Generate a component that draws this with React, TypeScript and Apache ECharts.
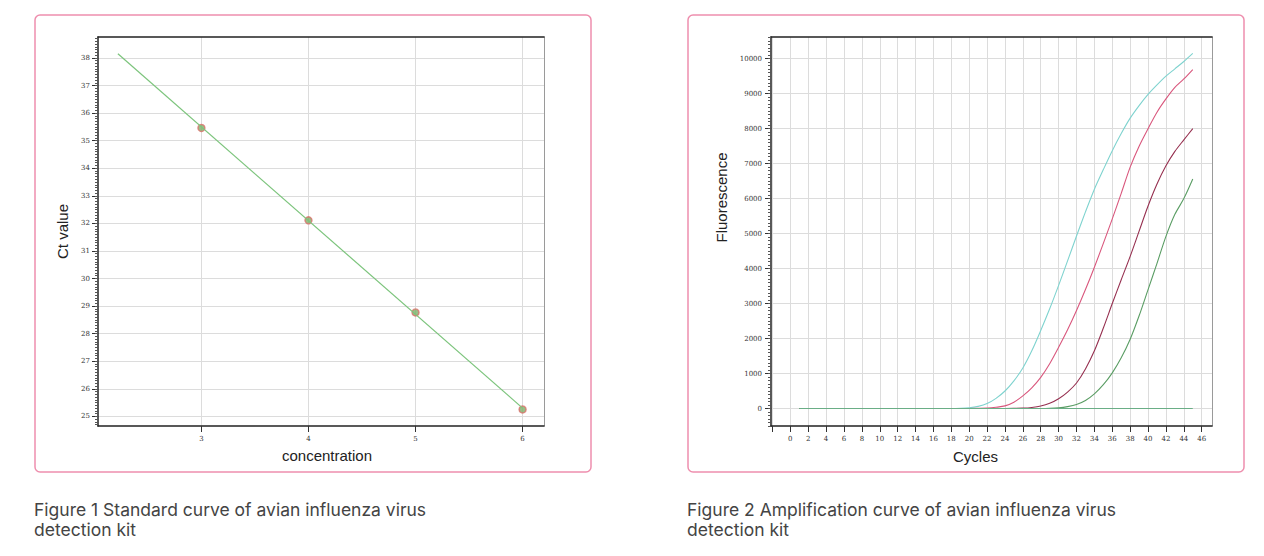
import * as echarts from 'echarts';
import { useEffect, useRef } from 'react';

// Figure 1: standard curve
const concentration = [3, 4, 5, 6];
const ctValues = [35.46, 32.11, 28.77, 25.25];
const fitStart = [2.22, 38.15];
const fitEnd = [6, 25.3];
const concTicks = [3, 4, 5, 6];
const ctTicks = [25, 26, 27, 28, 29, 30, 31, 32, 33, 34, 35, 36, 37, 38];

// Figure 2: amplification curves
const cycles = [
  1, 2, 3, 4, 5, 6, 7, 8, 9, 10, 11, 12, 13, 14, 15, 16, 17, 18, 19, 20, 21, 22, 23,
  24, 25, 26, 27, 28, 29, 30, 31, 32, 33, 34, 35, 36, 37, 38, 39, 40, 41, 42, 43, 44, 45,
];
const cyanCurve = [
  0, 0, 0, 0, 0, 0, 0, 0, 0, 0, 0, 0, 0, 0, 0, 0, 0, 0, 5, 20, 60, 140, 290, 500, 790,
  1160, 1650, 2230, 2850, 3520, 4220, 4930, 5620, 6270, 6830, 7370, 7860, 8300, 8660,
  8980, 9250, 9500, 9710, 9920, 10150,
];
const pinkCurve = [
  0, 0, 0, 0, 0, 0, 0, 0, 0, 0, 0, 0, 0, 0, 0, 0, 0, 0, 0, 0, 3, 10, 35, 75, 180, 360,
  590, 890, 1280, 1750, 2250, 2800, 3400, 4040, 4720, 5420, 6150, 6900, 7500, 8000,
  8470, 8850, 9180, 9420, 9690,
];
const maroonCurve = [
  0, 0, 0, 0, 0, 0, 0, 0, 0, 0, 0, 0, 0, 0, 0, 0, 0, 0, 0, 0, 0, 0, 0, 0, 3, 10, 30,
  70, 150, 280, 470, 730, 1130, 1650, 2300, 3000, 3680, 4350, 5070, 5790, 6420, 6940,
  7350, 7680, 8000,
];
const greenCurve = [
  0, 0, 0, 0, 0, 0, 0, 0, 0, 0, 0, 0, 0, 0, 0, 0, 0, 0, 0, 0, 0, 0, 0, 0, 0, 0, 0, 0,
  5, 20, 55, 115, 230, 420, 680, 1020, 1450, 1980, 2650, 3400, 4150, 4920, 5550, 6000,
  6560,
];
const baseline = [
  0, 0, 0, 0, 0, 0, 0, 0, 0, 0, 0, 0, 0, 0, 0, 0, 0, 0, 0, 0, 0, 0, 0, 0, 0, 0, 0, 0,
  0, 0, 0, 0, 0, 0, 0, 0, 0, 0, 0, 0, 0, 0, 0, 0, 0,
];
const cycleTicks = [-2, 0, 2, 4, 6, 8, 10, 12, 14, 16, 18, 20, 22, 24, 26, 28, 30, 32, 34, 36, 38, 40, 42, 44, 46];
const cycleLabels = [0, 2, 4, 6, 8, 10, 12, 14, 16, 18, 20, 22, 24, 26, 28, 30, 32, 34, 36, 38, 40, 42, 44, 46];
const fluorTicks = [0, 1000, 2000, 3000, 4000, 5000, 6000, 7000, 8000, 9000, 10000];

const captions = [
  'Figure 1 Standard curve of avian influenza virus\ndetection kit',
  'Figure 2 Amplification curve of avian influenza virus\ndetection kit',
];

const pair = (xs: number[], ys: number[]) => xs.map((x, i) => [x, ys[i]]);

const labelFont = {
  fontFamily: 'DejaVu Serif',
  fontSize: 7,
  color: '#333',
  formatter: (v: number) => String(v),
};
const nameFont = { fontFamily: 'Liberation Sans', fontSize: 15, color: '#222' };
const darkLine = { onZero: false, lineStyle: { color: '#222', width: 1.5 } };
const grayLine = { onZero: false, lineStyle: { color: '#9a9a9a', width: 1 } };
const gridLine = { show: true, lineStyle: { color: '#dcdcdc', width: 1 } };

const ctMinor: number[] = [];
for (let v = 247; v <= 387; v++) ctMinor.push(v / 10);
const fluorMinor: number[] = [];
for (let v = -500; v <= 10600; v += 100) fluorMinor.push(v);

const App = () => {
  const chartRef = useRef(null);

  useEffect(() => {
    const chart = echarts.init(chartRef.current, null, { renderer: 'svg' });

    const option = {
      animation: false,
      title: captions.map((text, i) => ({
        text,
        left: i === 0 ? 34 : 687,
        top: 499,
        padding: 0,
        textStyle: {
          fontFamily: 'Inter',
          fontSize: 17.5,
          fontWeight: 'normal',
          color: '#444',
          lineHeight: 20,
        },
      })),
      graphic: [
        {
          type: 'rect',
          shape: { x: 35, y: 15, width: 556, height: 457, r: 5 },
          style: { fill: 'none', stroke: '#ee8fae', lineWidth: 1.5 },
        },
        {
          type: 'rect',
          shape: { x: 688, y: 15, width: 556, height: 457, r: 5 },
          style: { fill: 'none', stroke: '#ee8fae', lineWidth: 1.5 },
        },
      ],
      grid: [
        { left: 98, top: 37, width: 446, height: 389 },
        { left: 771, top: 37, width: 441, height: 389 },
      ],
      xAxis: [
        {
          gridIndex: 0,
          type: 'value',
          position: 'bottom',
          min: 2.034,
          max: 6.2,
          axisLine: darkLine,
          axisTick: { customValues: concTicks, length: 6, lineStyle: { color: '#333' } },
          axisLabel: { ...labelFont, customValues: concTicks, margin: 9 },
          splitLine: gridLine,
          name: 'concentration',
          nameLocation: 'middle',
          nameGap: 22,
          nameTextStyle: { ...nameFont, padding: [0, 0, 0, 12] },
        },
        {
          gridIndex: 0,
          type: 'value',
          position: 'top',
          min: 2.034,
          max: 6.2,
          axisLine: darkLine,
          axisTick: { show: false },
          axisLabel: { show: false },
          splitLine: { show: false },
        },
        {
          gridIndex: 1,
          type: 'value',
          position: 'bottom',
          min: -2.16,
          max: 47.15,
          axisLine: darkLine,
          axisTick: { customValues: cycleTicks, length: 6, lineStyle: { color: '#333' } },
          axisLabel: { ...labelFont, customValues: cycleLabels, margin: 9 },
          splitLine: gridLine,
          name: 'Cycles',
          nameLocation: 'middle',
          nameGap: 23,
          nameTextStyle: { ...nameFont, padding: [0, 32, 0, 0] },
        },
        {
          gridIndex: 1,
          type: 'value',
          position: 'top',
          min: -2.16,
          max: 47.15,
          axisLine: darkLine,
          axisTick: { show: false },
          axisLabel: { show: false },
          splitLine: { show: false },
        },
      ],
      yAxis: [
        {
          gridIndex: 0,
          type: 'value',
          position: 'left',
          min: 24.65,
          max: 38.76,
          axisLine: { show: true, ...darkLine },
          axisTick: { show: true, customValues: ctTicks, length: 6, lineStyle: { color: '#333' } },
          axisLabel: { ...labelFont, customValues: ctTicks, margin: 8 },
          splitLine: gridLine,
          name: 'Ct value',
          nameLocation: 'middle',
          nameGap: 28,
          nameTextStyle: nameFont,
        },
        {
          gridIndex: 0,
          type: 'value',
          position: 'left',
          min: 24.65,
          max: 38.76,
          axisLine: { show: false, onZero: false },
          axisTick: { show: true, customValues: ctMinor, length: 3, lineStyle: { color: '#555' } },
          axisLabel: { show: false },
          splitLine: { show: false },
        },
        {
          gridIndex: 0,
          type: 'value',
          position: 'right',
          min: 24.65,
          max: 38.76,
          axisLine: { show: true, ...grayLine },
          axisTick: { show: false },
          axisLabel: { show: false },
          splitLine: { show: false },
        },
        {
          gridIndex: 1,
          type: 'value',
          position: 'left',
          min: -500,
          max: 10620,
          axisLine: { show: true, ...darkLine },
          axisTick: { show: true, customValues: fluorTicks, length: 6, lineStyle: { color: '#333' } },
          axisLabel: { ...labelFont, customValues: fluorTicks, margin: 9 },
          splitLine: gridLine,
          name: 'Fluorescence',
          nameLocation: 'middle',
          nameGap: 42,
          nameTextStyle: { ...nameFont, padding: [0, 0, 0, 68] },
        },
        {
          gridIndex: 1,
          type: 'value',
          position: 'left',
          min: -500,
          max: 10620,
          axisLine: { show: false, onZero: false },
          axisTick: { show: true, customValues: fluorMinor, length: 3, lineStyle: { color: '#555' } },
          axisLabel: { show: false },
          splitLine: { show: false },
        },
        {
          gridIndex: 1,
          type: 'value',
          position: 'right',
          min: -500,
          max: 10620,
          axisLine: { show: true, ...grayLine },
          axisTick: { show: false },
          axisLabel: { show: false },
          splitLine: { show: false },
        },
      ],
      series: [
        {
          name: 'fit',
          type: 'line',
          xAxisIndex: 0,
          yAxisIndex: 0,
          data: [fitStart, fitEnd],
          symbol: 'none',
          lineStyle: { color: '#7cc47c', width: 1.2 },
        },
        {
          name: 'standards',
          type: 'scatter',
          xAxisIndex: 0,
          yAxisIndex: 0,
          data: pair(concentration, ctValues),
          symbol: 'circle',
          symbolSize: 7,
          itemStyle: { color: '#7fae68', borderColor: '#d9706a', borderWidth: 1.4 },
        },
        ...[
          { data: cyanCurve, color: '#7fd3cf' },
          { data: pinkCurve, color: '#d9577d' },
          { data: maroonCurve, color: '#963050' },
          { data: greenCurve, color: '#5a9d64' },
          { data: baseline, color: '#6aae86' },
        ].map((s) => ({
          type: 'line',
          xAxisIndex: 2,
          yAxisIndex: 3,
          data: pair(cycles, s.data),
          symbol: 'none',
          smooth: 0.3,
          lineStyle: { color: s.color, width: 1.1 },
        })),
      ],
    };

    chart.setOption(option);

    return () => {
      chart.dispose();
    };
  }, []);

  return (
    <div
      ref={chartRef}
      style={{ position: 'fixed', left: 0, top: 0, width: '1264px', height: '556px', background: '#fff' }}
    />
  );
};

export default App;
